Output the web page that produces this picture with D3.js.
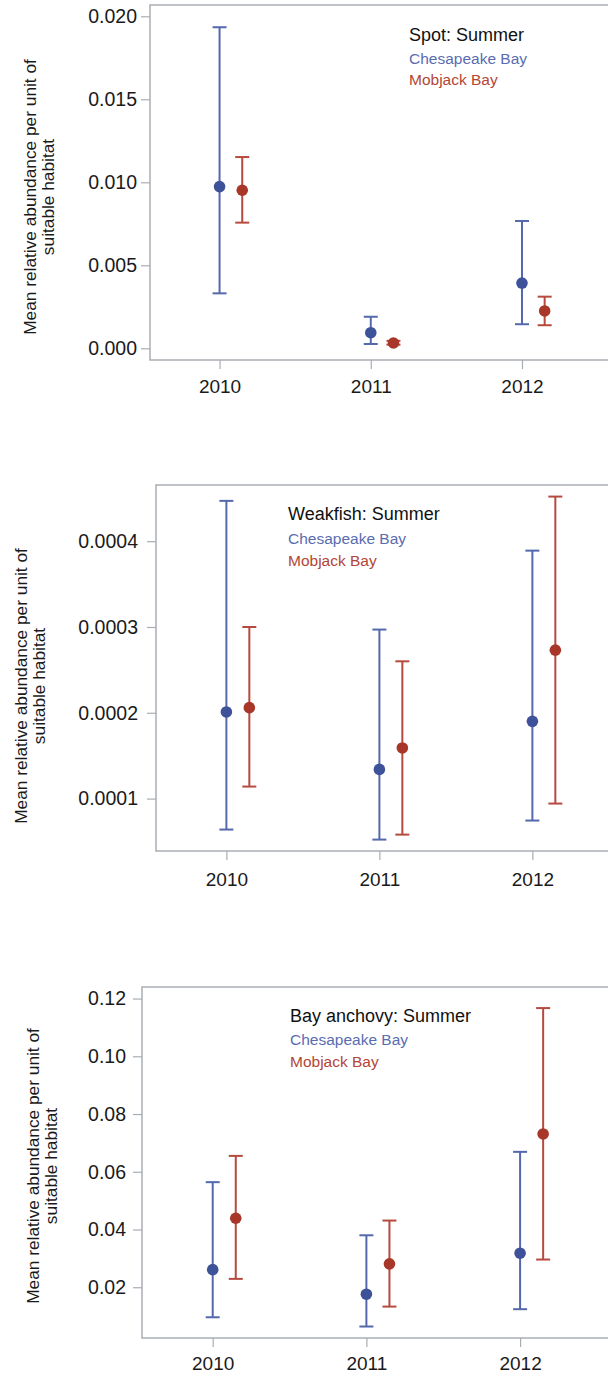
<!DOCTYPE html>
<html>
<head>
<meta charset="utf-8">
<script src="https://cdn.jsdelivr.net/npm/d3@7"></script>
<style>
  html, body { margin: 0; padding: 0; background: #fff; }
  svg { display: block; }
  text { font-family: "Liberation Sans", Arial, sans-serif; }
</style>
</head>
<body>
<svg id="chart" width="608" height="1376"></svg>
<script>
// Survey years and the two bays compared in each panel
const years = [2010, 2011, 2012];
const series = ["Chesapeake Bay", "Mobjack Bay"];

// Spot: mean, lower and upper bound per year
const spotChesMean = [0.00974, 0.00094, 0.00393];
const spotChesLow  = [0.00331, 0.00026, 0.00145];
const spotChesHigh = [0.01934, 0.00190, 0.00767];
const spotMobMean  = [0.00952, 0.00032, 0.00225];
const spotMobLow   = [0.00757, 0.00022, 0.00139];
const spotMobHigh  = [0.01152, 0.00045, 0.00311];

// Weakfish
const weakChesMean = [0.000201, 0.000134, 0.000190];
const weakChesLow  = [0.0000639, 0.0000522, 0.0000744];
const weakChesHigh = [0.000447, 0.000297, 0.000389];
const weakMobMean  = [0.000206, 0.000159, 0.000273];
const weakMobLow   = [0.000114, 0.000058, 0.0000942];
const weakMobHigh  = [0.000300, 0.000260, 0.000452];

// Bay anchovy
const anchChesMean = [0.0261, 0.0176, 0.0318];
const anchChesLow  = [0.0096, 0.0064, 0.0124];
const anchChesHigh = [0.0564, 0.0380, 0.0669];
const anchMobMean  = [0.0439, 0.0281, 0.0731];
const anchMobLow   = [0.0229, 0.0133, 0.0296];
const anchMobHigh  = [0.0655, 0.0431, 0.1167];

// Tick labels for each panel's value axis
const spotTicks = [0.000, 0.005, 0.010, 0.015, 0.020];
const weakTicks = [0.0001, 0.0002, 0.0003, 0.0004];
const anchTicks = [0.02, 0.04, 0.06, 0.08, 0.10, 0.12];

const titles = ["Spot: Summer", "Weakfish: Summer", "Bay anchovy: Summer"];
const yTitle = ["Mean relative abundance per unit of", "suitable habitat"];

const colors = { line: ["#5468ad", "#b64a3e"], dot: ["#3e5299", "#a8372a"], text: ["#5a6db0", "#b24636"] };

function rows(mean, low, high) {
  return years.map((y, i) => ({ year: y, mean: mean[i], low: low[i], high: high[i] }));
}

const panels = [
  {
    title: titles[0], ticks: spotTicks, fmt: d3.format(".3f"),
    frame: { left: 150, top: 5, bottom: 360 }, tickPad: 4,
    yDomain: [-0.000705, 0.02068], xRange: [150, 612.7],
    data: [rows(spotChesMean, spotChesLow, spotChesHigh), rows(spotMobMean, spotMobLow, spotMobHigh)],
    legend: { x: 409, y: 41, dy: [64, 85] },
    ytitle: { x: 30, y: 197 }, xlabelY: 393
  },
  {
    title: titles[1], ticks: weakTicks, fmt: d3.format(".4f"),
    frame: { left: 156, top: 485, bottom: 851 }, tickPad: 9,
    yDomain: [0.0000389, 0.0004655], xRange: [156, 624.2],
    data: [rows(weakChesMean, weakChesLow, weakChesHigh), rows(weakMobMean, weakMobLow, weakMobHigh)],
    legend: { x: 288, y: 520, dy: [544, 566] },
    ytitle: { x: 21, y: 686 }, xlabelY: 886
  },
  {
    title: titles[2], ticks: anchTicks, fmt: d3.format(".2f"),
    frame: { left: 142, top: 987, bottom: 1338 }, tickPad: 7,
    yDomain: [0.00242, 0.124], xRange: [142, 612.3],
    data: [rows(anchChesMean, anchChesLow, anchChesHigh), rows(anchMobMean, anchMobLow, anchMobHigh)],
    legend: { x: 290, y: 1022, dy: [1045, 1067] },
    ytitle: { x: 33, y: 1166 }, xlabelY: 1370
  }
];

const svg = d3.select("#chart");
const axisGrey = "#a9adb2";
const seriesOffset = [0, 0.15];   // Mobjack Bay sits just right of each year

panels.forEach(p => {
  const g = svg.append("g");
  const x = d3.scaleLinear().domain([2009.54, 2012.6]).range(p.xRange);
  const y = d3.scaleLinear().domain(p.yDomain).range([p.frame.bottom, p.frame.top]);

  // plot frame: left, top and bottom edges (runs off the right side)
  g.append("path")
    .attr("d", `M${p.xRange[1] + 20},${p.frame.top}H${p.frame.left}V${p.frame.bottom}H${p.xRange[1] + 20}`)
    .attr("fill", "none").attr("stroke", axisGrey).attr("stroke-width", 1.5);

  // value axis
  const yAxis = d3.axisLeft(y).tickValues(p.ticks).tickFormat(p.fmt).tickSize(9).tickPadding(p.tickPad);
  const ya = g.append("g").attr("transform", `translate(${p.frame.left},0)`).call(yAxis);
  ya.select(".domain").remove();
  ya.selectAll(".tick line").attr("stroke", axisGrey).attr("stroke-width", 1.2);
  ya.selectAll(".tick text").attr("fill", "#1a1a1a").style("font-size", "19.5px");

  // year axis
  const xAxis = d3.axisBottom(x).tickValues(years).tickFormat(d3.format("d")).tickSize(9).tickPadding(13);
  const xa = g.append("g").attr("transform", `translate(0,${p.frame.bottom})`).call(xAxis);
  xa.select(".domain").remove();
  xa.selectAll(".tick line").attr("stroke", axisGrey).attr("stroke-width", 1.2);
  xa.selectAll(".tick text").attr("fill", "#1a1a1a").style("font-size", "19px").attr("dy", null)
    .attr("y", p.xlabelY - p.frame.bottom);

  // axis title, two rotated lines
  const t = g.append("text")
    .attr("transform", `translate(${p.ytitle.x},${p.ytitle.y}) rotate(-90)`)
    .attr("text-anchor", "middle").attr("fill", "#1a1a1a").style("font-size", "17.3px");
  yTitle.forEach((s, i) => t.append("tspan").attr("x", 0).attr("dy", i === 0 ? "0.35em" : "1.05em").text(s));

  // error bars and means
  p.data.forEach((d, si) => {
    const cx = v => x(v.year + seriesOffset[si]);
    const sg = g.append("g");
    sg.selectAll("line.whisker").data(d).join("line").attr("class", "whisker")
      .attr("x1", cx).attr("x2", cx).attr("y1", v => y(v.low)).attr("y2", v => y(v.high))
      .attr("stroke", colors.line[si]).attr("stroke-width", 2);
    ["low", "high"].forEach(k => {
      sg.selectAll(`line.cap-${k}`).data(d).join("line").attr("class", `cap-${k}`)
        .attr("x1", v => cx(v) - 7).attr("x2", v => cx(v) + 7)
        .attr("y1", v => y(v[k])).attr("y2", v => y(v[k]))
        .attr("stroke", colors.line[si]).attr("stroke-width", 2);
    });
    sg.selectAll("circle").data(d).join("circle")
      .attr("cx", cx).attr("cy", v => y(v.mean)).attr("r", 5.8)
      .attr("fill", colors.dot[si]);
  });

  // legend
  g.append("text").attr("x", p.legend.x).attr("y", p.legend.y)
    .attr("fill", "#111").style("font-size", "18px").text(p.title);
  series.forEach((s, i) => {
    g.append("text").attr("x", p.legend.x).attr("y", p.legend.dy[i])
      .attr("fill", colors.text[i]).style("font-size", "15.5px").text(s);
  });
});
</script>
</body>
</html>
